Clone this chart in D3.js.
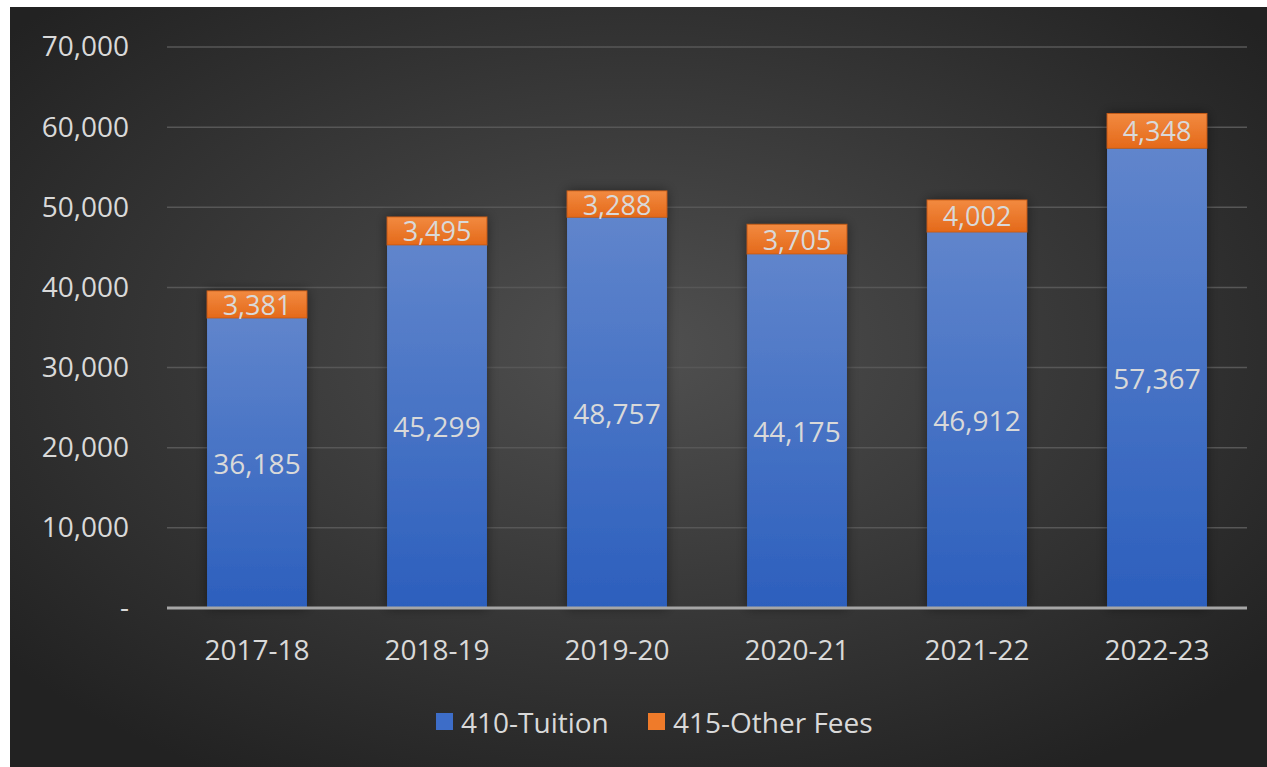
<!DOCTYPE html>
<html>
<head>
<meta charset="utf-8">
<script src="https://cdn.jsdelivr.net/npm/d3@7"></script>
<style>
  html, body { margin: 0; padding: 0; background: #ffffff; }
  svg { display: block; }
  text { font-family: "Open Sans", "Noto Sans", sans-serif; fill: #d9d9d9; }
</style>
</head>
<body>
<svg id="chart"></svg>
<script>
const years = ["2017-18", "2018-19", "2019-20", "2020-21", "2021-22", "2022-23"];
const tuition = [36185, 45299, 48757, 44175, 46912, 57367];
const otherFees = [3381, 3495, 3288, 3705, 4002, 4348];
const seriesNames = ["410-Tuition", "415-Other Fees"];
const yTicks = [0, 10000, 20000, 30000, 40000, 50000, 60000, 70000];

const width = 1267, height = 767;
const margin = { top: 47, right: 20, bottom: 159, left: 167 };

const svg = d3.select("#chart")
  .attr("width", width)
  .attr("height", height);

const defs = svg.append("defs");

// background: dark with lighter centre
const bg = defs.append("radialGradient")
  .attr("id", "bg")
  .attr("cx", "50%").attr("cy", "45%").attr("r", "65%");
bg.append("stop").attr("offset", "0%").attr("stop-color", "#505050");
bg.append("stop").attr("offset", "100%").attr("stop-color", "#222222");

const blue = defs.append("linearGradient")
  .attr("id", "blue").attr("x1", 0).attr("y1", 0).attr("x2", 0).attr("y2", 1);
blue.append("stop").attr("offset", "0%").attr("stop-color", "#6085cc");
blue.append("stop").attr("offset", "100%").attr("stop-color", "#2c5fbd");

const orange = defs.append("linearGradient")
  .attr("id", "orange").attr("x1", 0).attr("y1", 0).attr("x2", 0).attr("y2", 1);
orange.append("stop").attr("offset", "0%").attr("stop-color", "#f28a40");
orange.append("stop").attr("offset", "100%").attr("stop-color", "#e4691a");

const shadow = defs.append("filter")
  .attr("id", "shadow").attr("x", "-20%").attr("y", "-10%").attr("width", "140%").attr("height", "120%");
shadow.append("feDropShadow")
  .attr("dx", 0).attr("dy", 0).attr("stdDeviation", 6)
  .attr("flood-color", "#000").attr("flood-opacity", 0.45);

svg.append("rect")
  .attr("x", 10).attr("y", 7)
  .attr("width", width - 10).attr("height", height - 7)
  .attr("fill", "url(#bg)");

const x = d3.scaleBand()
  .domain(years)
  .range([margin.left, width - margin.right])
  .paddingInner(0.445)
  .paddingOuter(0.2225);

const y = d3.scaleLinear()
  .domain([0, 70000])
  .range([height - margin.bottom, margin.top]);

// gridlines
svg.append("g")
  .selectAll("line")
  .data(yTicks.filter(d => d > 0))
  .join("line")
  .attr("x1", margin.left)
  .attr("x2", width - margin.right)
  .attr("y1", d => y(d))
  .attr("y2", d => y(d))
  .attr("stroke", "#575757")
  .attr("stroke-width", 1.5);

// y axis labels
const yAxis = d3.axisLeft(y)
  .tickValues(yTicks)
  .tickSize(0)
  .tickPadding(38)
  .tickFormat(d => d === 0 ? "-" : d3.format(",")(d));

const yAxisGroup = svg.append("g")
  .attr("transform", `translate(${margin.left},0)`)
  .call(yAxis);
yAxisGroup.select(".domain").remove();
yAxisGroup.selectAll("text")
  .style("font-size", "28px")
  .attr("fill", "#d9d9d9");

const data = years.map((yr, i) => ({ year: yr, tuition: tuition[i], other: otherFees[i] }));

const bars = svg.append("g")
  .selectAll("g")
  .data(data)
  .join("g")
  .attr("filter", "url(#shadow)");

bars.append("rect")
  .attr("x", d => x(d.year))
  .attr("width", x.bandwidth())
  .attr("y", d => y(d.tuition))
  .attr("height", d => y(0) - y(d.tuition))
  .attr("fill", "url(#blue)");

bars.append("rect")
  .attr("x", d => x(d.year))
  .attr("width", x.bandwidth())
  .attr("y", d => y(d.tuition + d.other))
  .attr("height", d => y(d.tuition) - y(d.tuition + d.other))
  .attr("fill", "url(#orange)")
  .attr("stroke", "#c85a12")
  .attr("stroke-width", 0.8);

// x axis baseline
svg.append("line")
  .attr("x1", margin.left)
  .attr("x2", width - margin.right)
  .attr("y1", y(0))
  .attr("y2", y(0))
  .attr("stroke", "#a6a6a6")
  .attr("stroke-width", 3);

const xAxis = d3.axisBottom(x).tickSize(0).tickPadding(32);
const xAxisGroup = svg.append("g")
  .attr("transform", `translate(0,${y(0)})`)
  .call(xAxis);
xAxisGroup.select(".domain").remove();
xAxisGroup.selectAll("text")
  .style("font-size", "28px")
  .attr("fill", "#d9d9d9");

// value labels
const labels = svg.append("g");
labels.selectAll(".lab-t")
  .data(data)
  .join("text")
  .attr("class", "lab-t")
  .attr("x", d => x(d.year) + x.bandwidth() / 2)
  .attr("y", d => (y(0) + y(d.tuition)) / 2)
  .attr("text-anchor", "middle")
  .attr("dominant-baseline", "central")
  .style("font-size", "28px")
  .text(d => d3.format(",")(d.tuition));

labels.selectAll(".lab-o")
  .data(data)
  .join("text")
  .attr("class", "lab-o")
  .attr("x", d => x(d.year) + x.bandwidth() / 2)
  .attr("y", d => (y(d.tuition) + y(d.tuition + d.other)) / 2)
  .attr("text-anchor", "middle")
  .attr("dominant-baseline", "central")
  .style("font-size", "27px")
  .text(d => d3.format(",")(d.other));

// legend
const legendColors = ["#3d6dc8", "#ef7b2a"];
const legend = svg.append("g").attr("class", "legend");
const legendX = [436, 648];
seriesNames.forEach((name, i) => {
  const g = legend.append("g").attr("transform", `translate(${legendX[i]},722)`);
  g.append("rect")
    .attr("x", 0).attr("y", -9)
    .attr("width", 17).attr("height", 17)
    .attr("fill", legendColors[i]);
  g.append("text")
    .attr("x", 25)
    .attr("y", 0)
    .attr("dominant-baseline", "central")
    .style("font-size", "28px")
    .text(name);
});
</script>
</body>
</html>
